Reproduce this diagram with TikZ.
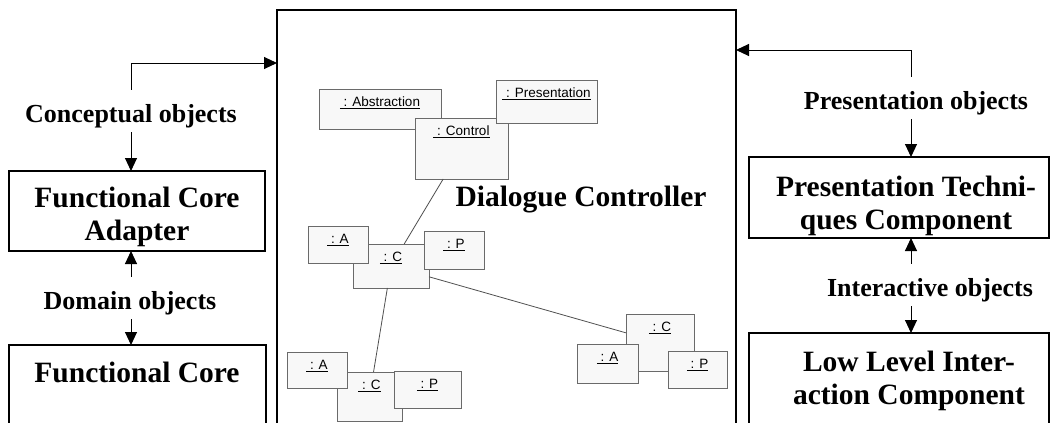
\documentclass[tikz,border=0pt]{standalone}
\usepackage{fontspec}
\setmainfont{Liberation Serif}
\newfontfamily\objfont{Liberation Sans}
\usetikzlibrary{arrows.meta}
\definecolor{objfill}{HTML}{F8F8F8}
\definecolor{objdraw}{HTML}{6A6A6A}
\definecolor{linkcol}{HTML}{505050}
\newcommand\objname[1]{\underline{\ #1}}
\begin{document}
\begin{tikzpicture}[x=1pt,y=-1pt,
  bigbox/.style={draw=black, line width=1.3pt, fill=white, inner sep=0pt, outer sep=0pt, anchor=north west},
  title/.style={font=\fontsize{29.5}{33}\selectfont\bfseries, align=center, inner sep=0pt},
  lbl/.style={font=\fontsize{26}{30}\selectfont\bfseries, inner sep=0pt, anchor=base},
  flow/.style={draw=black, line width=1pt, -{Triangle[length=13pt,width=12pt]}},
  obj/.style 2 args={draw=objdraw, fill=objfill, line width=0.8pt, inner sep=0pt, outer sep=0pt,
    anchor=north west, text height=17.5pt, text depth=#2, minimum width=#1,
    font=\objfont\fontsize{13.5}{15}\selectfont},
  link/.style={draw=linkcol, line width=0.8pt}]
\useasboundingbox (0,0) rectangle (1050,423);
\clip (0,0) rectangle (1050,423);
\fill[white] (0,0) rectangle (1050,423);

% big boxes
\node[bigbox, minimum width=256pt, minimum height=80pt] (fca) at (9,171) {};
\node[bigbox, minimum width=257pt, minimum height=100pt] (fc) at (9,345) {};
\node[bigbox, minimum width=459pt, minimum height=430pt] (dc) at (277,10) {};
\node[bigbox, minimum width=300pt, minimum height=81pt] (ptc) at (749,157) {};
\node[bigbox, minimum width=300pt, minimum height=100pt] (llic) at (749,333) {};

% titles
\node[title, anchor=north] (fcaT) at (137,187) {Functional Core\\Adapter};
\node[title, anchor=north] (fcT) at (137,362) {Functional Core};
\node[title, anchor=north] (ptcT) at (906,176) {Presentation Techni-\\ques Component};
\node[title, anchor=north] (llicT) at (909,351) {Low Level Inter-\\action Component};
\node[title, anchor=base] (dcT) at (581,206) {Dialogue Controller};

% flow labels
\node[lbl] (co) at (131,122) {Conceptual objects};
\node[lbl] (dob) at (130,309) {Domain objects};
\node[lbl] (po) at (916,109) {Presentation objects};
\node[lbl] (io) at (930,296) {Interactive objects};

\coordinate (lbend) at (131,63);
\coordinate (rbend) at (911,50);

\draw[flow] ([yshift=14pt]lbend |- co.north) -- (lbend) -- (lbend -| dc.west);
\draw[flow] ([yshift=-4.5pt]lbend |- co.south) -- (lbend |- fca.north);
\draw[flow] ([yshift=14pt]lbend |- dob.north) -- (lbend |- fca.south);
\draw[flow] ([yshift=-4.5pt]lbend |- dob.south) -- (lbend |- fc.north);

\draw[flow] ([yshift=14pt]rbend |- po.north) -- (rbend) -- (rbend -| dc.east);
\draw[flow] ([yshift=-4.5pt]rbend |- po.south) -- (rbend |- ptc.north);
\draw[flow] ([yshift=14pt]rbend |- io.north) -- (rbend |- ptc.south);
\draw[flow] ([yshift=-4.5pt]rbend |- io.south) -- (rbend |- llic.north);

% object clusters
\node[obj={122pt}{22.5pt}] (abs) at (319,89) {\objname{: Abstraction}};
\node[obj={93pt}{43.5pt}] (ctl) at (415,118) {\objname{: Control}};
\node[obj={101pt}{25.5pt}] (prs) at (496,80) {\objname{: Presentation}};

\node[obj={76pt}{26.5pt}] (c1) at (353,244) {\objname{: C}};
\node[obj={60pt}{19.5pt}] (a1) at (308,226) {\objname{: A}};
\node[obj={60pt}{20.5pt}] (p1) at (424,231) {\objname{: P}};

\node[obj={65pt}{31.5pt}] (c2) at (337,372) {\objname{: C}};
\node[obj={60pt}{18.5pt}] (a2) at (287,352) {\objname{: A}};
\node[obj={67pt}{19.5pt}] (p2) at (394,371) {\objname{: P}};

\node[obj={68pt}{39.5pt}] (c3) at (626,314) {\objname{: C}};
\node[obj={61pt}{21.5pt}] (a3) at (577,344) {\objname{: A}};
\node[obj={59pt}{19.5pt}] (p3) at (668,351) {\objname{: P}};

% links
\draw[link] (ctl) -- (c1);
\draw[link] (c1) -- (c2);
\draw[link] (c1) -- (c3);
\end{tikzpicture}
\end{document}
